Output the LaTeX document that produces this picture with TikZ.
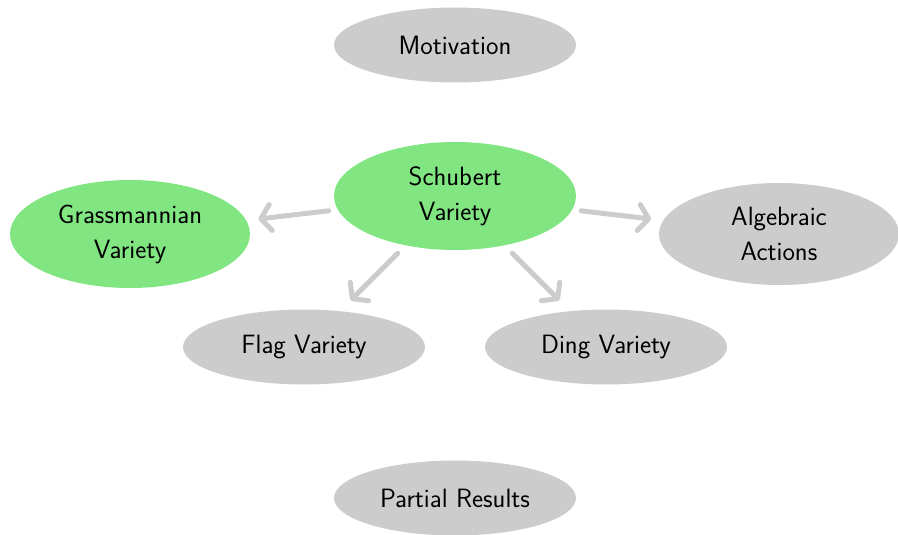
\documentclass[tikz,border=0pt]{standalone}
\usepackage{fontspec}
\usetikzlibrary{shapes.geometric,arrows.meta}
\definecolor{topicgreen}{RGB}{129,230,129}
\definecolor{topicgray}{RGB}{204,204,204}
\begin{document}
\begin{tikzpicture}[x=1pt,y=-1pt,
  topic/.style={ellipse,fill=topicgray,inner sep=0pt,
    minimum width=242pt,minimum height=75pt,align=center,
    font=\sffamily\fontsize{26.5}{35}\selectfont},
  bigtopic/.style={topic,minimum height=108pt},
  active/.style={fill=topicgreen},
  link/.style={draw=topicgray,line width=5pt,line cap=round,
    -{Straight Barb[length=10pt,width=26pt,round]},
    shorten <=9pt,shorten >=12pt}]
\useasboundingbox (0,0) rectangle (898,535);
\node[topic] (mot) at (455,45) {Motivation};
\node[bigtopic,active] (sch) at (455,196) {Schubert\\Variety};
\node[bigtopic,active,minimum width=240pt] (gra) at (130,234) {Grassmannian\\Variety};
\node[topic,minimum width=240pt,minimum height=102pt] (alg) at (779,234) {Algebraic\\Actions};
\node[topic] (fla) at (304,347) {Flag Variety};
\node[topic] (din) at (606,347) {Ding Variety};
\node[topic] (par) at (455,498) {Partial Results};
\draw[link] (sch) -- (gra);
\draw[link] (sch) -- (alg);
\draw[link,shorten <=11pt,shorten >=15pt] (sch) -- (fla);
\draw[link,shorten <=11pt,shorten >=15pt] (sch) -- (din);
\end{tikzpicture}
\end{document}
